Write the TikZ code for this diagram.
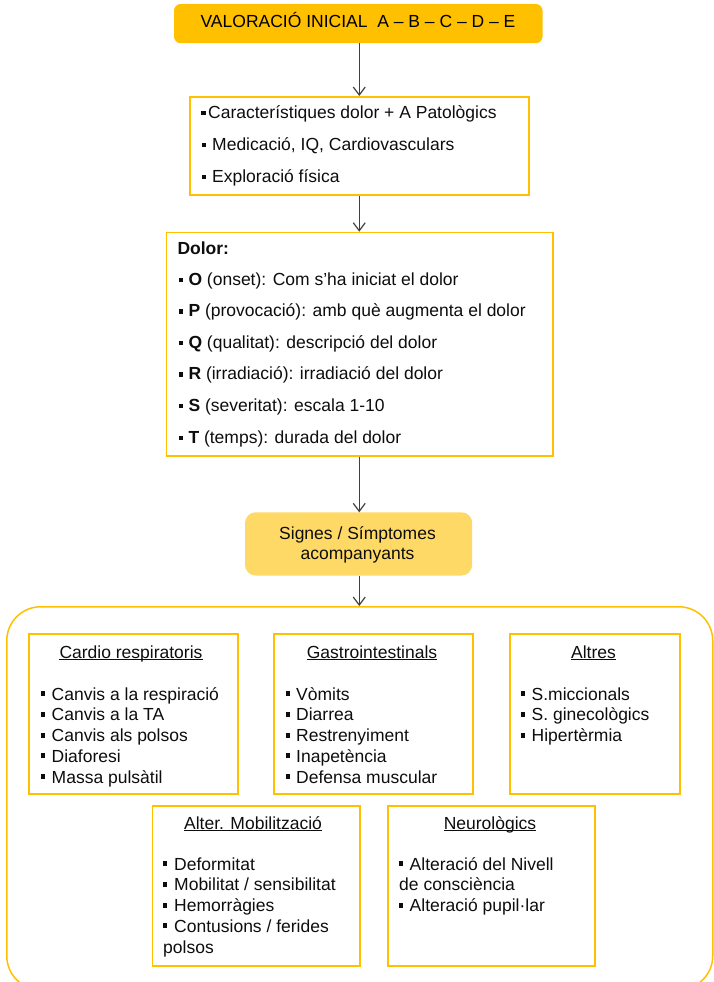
\documentclass[tikz,border=0pt]{standalone}
\usepackage{fontspec}
\setmainfont{Liberation Sans}
\usetikzlibrary{arrows.meta}
\definecolor{gold}{HTML}{FFC000}
\definecolor{lightgold}{HTML}{FFD966}
\definecolor{arr}{HTML}{404040}
\definecolor{txt}{HTML}{0D0D0D}
\newcommand{\bl}[1]{\makebox[#1][l]{\rule[3pt]{4.5pt}{4.5pt}}}
\newcommand{\bls}[1]{\makebox[#1][l]{\rule[4pt]{4pt}{5pt}}}
\tikzset{
  box/.style={draw=gold, line width=1.5pt, inner sep=0pt, anchor=north west},
  tl/.style={inner sep=0pt, anchor=base west, font=\fontsize{17.5}{21}\selectfont, text=txt},
  tc/.style={inner sep=0pt, anchor=base, font=\fontsize{17.5}{21}\selectfont, text=txt},
  arrowline/.style={draw=arr, line width=1.2pt, -{Straight Barb[length=8pt,width=12pt]}},
  uline/.style={draw=txt, line width=1.2pt},
}
\begin{document}
\begin{tikzpicture}[x=1pt,y=-1pt]
\useasboundingbox (0,0) rectangle (714,982);
% title
\node[box, fill=gold, rounded corners=6pt, minimum width=367, minimum height=37.7] (title) at (174,4) {};
\node[tc, text=black] (titlet) at (358,28) {VALORACIÓ INICIAL\ \ A – B – C – D – E};
% box 2
\node[box, minimum width=339, minimum height=98] (b2) at (189,96) {};
\node[tl] (b2a) at (201,118) {\bl{7pt}Característiques dolor + A Patològics};
\node[tl] (b2b) at (201.5,150) {\bl{10.5pt}Medicació, IQ, Cardiovasculars};
\node[tl] (b2c) at (201.5,182) {\bl{10.5pt}Exploració física};
% dolor
\node[box, minimum width=386.3, minimum height=223.3] (dol) at (165.7,231.7) {};
\node[tl] (dolt) at (177.3,254) {\textbf{Dolor:}};
\foreach \t [count=\i] in {{\textbf{O} (onset): Com s’ha iniciat el dolor},
  {\textbf{P} (provocació): amb què augmenta el dolor},
  {\textbf{Q} (qualitat): descripció del dolor},
  {\textbf{R} (irradiació): irradiació del dolor},
  {\textbf{S} (severitat): escala 1-10},
  {\textbf{T} (temps): durada del dolor}}
  \node[tl] (dol\i) at (178.3,{285+(\i-1)*31.6}) {\bl{10pt}\t};
% signs
\node[box, draw=lightgold, fill=lightgold, rounded corners=10pt, minimum width=225.7, minimum height=61.7] (sig) at (245,512.3) {};
\node[tc] (siga) at (357.5,539) {Signes / Símptomes};
\node[tc] (sigb) at (357.5,559) {acompanyants};
% big box (bottom edge runs below the page)
\node[box, rounded corners=34pt, minimum width=706, minimum height=383] (big) at (6,606) {};
% arrows
\draw[arrowline] (b2.north |- title.south) -- (b2.north);
\draw[arrowline] (b2.south) -- (b2.south |- dol.north);
\draw[arrowline] (b2.south |- dol.south) -- (b2.south |- sig.north);
\draw[arrowline] (b2.south |- sig.south) -- (b2.south |- big.north);
% small boxes
\node[box, minimum width=209, minimum height=160] (cr) at (28,633.3) {};
\node[box, minimum width=199, minimum height=160] (gi) at (273,633.3) {};
\node[box, minimum width=170, minimum height=160] (al) at (509,633.3) {};
\node[box, minimum width=207.5, minimum height=160] (mo) at (151.5,805) {};
\node[box, minimum width=207, minimum height=160] (ne) at (387,805) {};
% titles
\node[tc] (crt) at (131,658) {Cardio respiratoris};
\node[tc] (git) at (372,658) {Gastrointestinals};
\node[tc] (alt) at (593.5,658) {Altres};
\node[tc] (mot) at (253,829) {Alter. Mobilització};
\node[tc] (net) at (490,829) {Neurològics};
\foreach \n in {crt,git,alt,mot,net}
  \draw[uline] ([yshift=-1.8pt]\n.base west) -- ([yshift=-1.8pt]\n.base east);
% items
\foreach \t [count=\i] in {Canvis a la respiració, Canvis a la TA, Canvis als polsos, Diaforesi, Massa pulsàtil}
  \node[tl] (cr\i) at (41,{700+(\i-1)*20.8}) {\bls{10.5pt}\t};
\foreach \t [count=\i] in {Vòmits, Diarrea, Restrenyiment, Inapetència, Defensa muscular}
  \node[tl] (gi\i) at (286,{700+(\i-1)*20.8}) {\bls{10pt}\t};
\foreach \t [count=\i] in {S.miccionals, S. ginecològics, Hipertèrmia}
  \node[tl] (al\i) at (521,{700+(\i-1)*20.8}) {\bls{10.5pt}\t};
\foreach \t [count=\i] in {Deformitat, Mobilitat / sensibilitat, Hemorràgies, Contusions / ferides}
  \node[tl] (mo\i) at (163,{870+(\i-1)*20.8}) {\bls{11pt}\t};
\node[tl] (mo5) at (163,953.2) {polsos};
\node[tl] (ne1) at (399,870) {\bls{10.5pt}Alteració del Nivell};
\node[tl] (ne2) at (399,890.8) {de consciència};
\node[tl] (ne3) at (399,911.6) {\bls{10.5pt}Alteració pupil·lar};
\end{tikzpicture}
\end{document}
